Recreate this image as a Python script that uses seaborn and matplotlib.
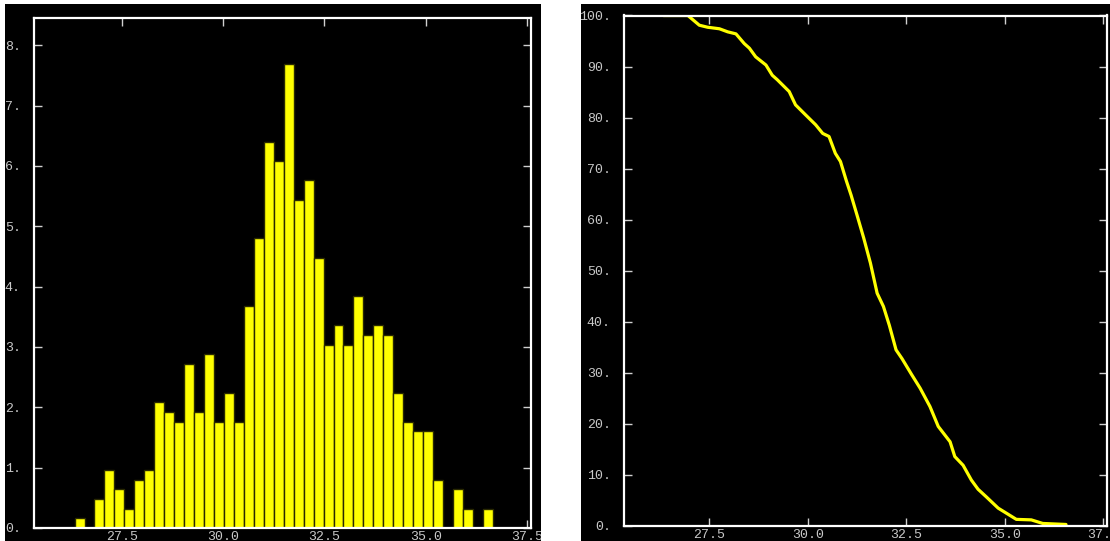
import matplotlib
matplotlib.use("Agg")
import matplotlib.pyplot as plt
from matplotlib.patches import Rectangle
from matplotlib.ticker import FuncFormatter
import seaborn as sns

# histogram: bin centres and percent of samples per bin
bin_centers = [26.46, 26.71, 26.95, 27.20, 27.44, 27.69, 27.94, 28.18, 28.43, 28.67,
               28.92, 29.16, 29.41, 29.65, 29.90, 30.15, 30.39, 30.64, 30.88, 31.13,
               31.37, 31.62, 31.86, 32.11, 32.35, 32.60, 32.85, 33.09, 33.34, 33.58,
               33.83, 34.07, 34.32, 34.56, 34.81, 35.06, 35.30, 35.55, 35.79, 36.04,
               36.28, 36.53]
bin_pct = [0.16, 0.00, 0.48, 0.96, 0.64, 0.32, 0.80, 0.96, 2.08, 1.92,
           1.76, 2.72, 1.92, 2.88, 1.76, 2.24, 1.76, 3.68, 4.80, 6.40,
           6.08, 7.68, 5.44, 5.76, 4.48, 3.04, 3.36, 3.04, 3.84, 3.20,
           3.36, 3.20, 2.24, 1.76, 1.60, 1.60, 0.80, 0.00, 0.64, 0.32,
           0.00, 0.32]

# survival curve: percent of samples above x
surv_x = [26.34, 26.96, 27.25, 27.46, 27.76, 27.97, 28.18, 28.39, 28.52, 28.68,
          28.94, 29.10, 29.23, 29.53, 29.69, 29.95, 30.20, 30.38, 30.54, 30.70,
          30.83, 30.98, 31.10, 31.25, 31.42, 31.59, 31.76, 31.92, 32.07, 32.24,
          32.39, 32.64, 32.85, 33.10, 33.31, 33.61, 33.73, 33.94, 34.15, 34.32,
          34.53, 34.83, 35.04, 35.29, 35.67, 35.96, 36.55]
surv_y = [100.0, 100.0, 98.1, 97.7, 97.4, 96.8, 96.4, 94.5, 93.6, 91.9,
          90.3, 88.3, 87.4, 85.1, 82.5, 80.5, 78.6, 76.9, 76.3, 73.0,
          71.4, 67.6, 64.8, 60.9, 56.4, 51.5, 45.6, 43.0, 39.3, 34.5,
          32.8, 29.6, 27.0, 23.4, 19.5, 16.5, 13.6, 11.9, 9.0, 7.2,
          5.7, 3.5, 2.5, 1.3, 1.2, 0.5, 0.3]

x_ticks = [27.5, 30.0, 32.5, 35.0, 37.5]

sns.set_theme(style="ticks", rc={"axes.facecolor": "black", "figure.facecolor": "white"})
plt.rcParams["font.family"] = ["Liberation Mono", "DejaVu Sans Mono"]

W, H = 1110, 541
fig = plt.figure(figsize=(W / 100, H / 100), dpi=100)
fig.add_artist(Rectangle((5 / W, 0), 536 / W, 537 / H, transform=fig.transFigure,
                         facecolor="black", edgecolor="none", zorder=-1))
fig.add_artist(Rectangle((581 / W, 0), 529 / W, 537 / H, transform=fig.transFigure,
                         facecolor="black", edgecolor="none", zorder=-1))

ax1 = fig.add_axes([34 / W, 13 / H, 497 / W, 510 / H])
ax2 = fig.add_axes([624 / W, 15 / H, 483 / W, 510.5 / H])

sns.histplot(x=bin_centers, weights=bin_pct, bins=len(bin_centers), binrange=(26.34, 36.65),
             color="#ffff00", alpha=1, edgecolor="#2a2a00", linewidth=1, ax=ax1)
ax1.set_ylim(0, 8.45)
ax1.set_yticks(range(0, 9))

sns.lineplot(x=surv_x, y=surv_y, color="#ffff00", linewidth=2.3, ax=ax2)
ax2.set_ylim(0, 100)
ax2.set_yticks(range(0, 101, 10))

for ax in (ax1, ax2):
    ax.set_xlim(25.34, 37.59)
    ax.set_xticks(x_ticks)
    ax.set_xlabel("")
    ax.set_ylabel("")
    ax.xaxis.set_major_formatter(FuncFormatter(lambda v, p: f"{v:.1f}"))
    ax.yaxis.set_major_formatter(FuncFormatter(lambda v, p: f"{v:.0f}."))
    ax.tick_params(which="both", direction="in", top=True, right=True, length=6, width=1,
                   color="#d0d0d0", labelcolor="#c8c8c8", labelsize=9.5)
    ax.tick_params(axis="x", pad=2)
    ax.tick_params(axis="y", pad=9.5)
    for s in ax.spines.values():
        s.set_color("white")
        s.set_linewidth(1.6)

# white gutter between the two panels clips overflowing labels
fig.add_artist(Rectangle((541 / W, 0), 40 / W, 1, transform=fig.transFigure,
                         facecolor="white", edgecolor="none", zorder=10))

fig.savefig("out.png", dpi=100)
